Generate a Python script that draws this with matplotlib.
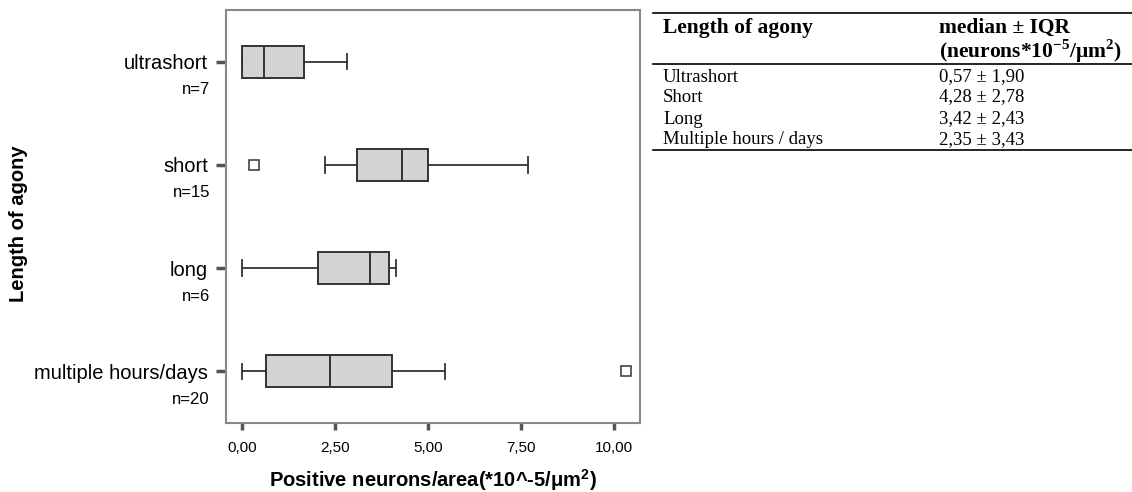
import matplotlib
matplotlib.use('Agg')
import matplotlib.pyplot as plt
from matplotlib.lines import Line2D
import matplotlib.transforms as mtransforms

plt.rcParams['font.family'] = ['Liberation Sans', 'DejaVu Sans']
plt.rcParams['mathtext.fontset'] = 'custom'
plt.rcParams['mathtext.sf'] = 'Liberation Sans:bold'
plt.rcParams['mathtext.bf'] = 'Liberation Serif:bold'
plt.rcParams['mathtext.rm'] = 'Liberation Serif'

# box plot data
groups = ['ultrashort', 'short', 'long', 'multiple hours/days']
counts = [7, 15, 6, 20]
whis_lo = [0.0, 2.24, 0.0, 0.0]
q1 = [0.0, 3.09, 2.04, 0.65]
medians = [0.58, 4.29, 3.45, 2.36]
q3 = [1.67, 4.99, 3.95, 4.02]
whis_hi = [2.82, 7.70, 4.14, 5.46]
outliers = [[], [0.31], [], [10.33]]

xticks = [0, 2.5, 5, 7.5, 10]
xticklabels = ['0,00', '2,50', '5,00', '7,50', '10,00']

# table data
tab_groups = ['Ultrashort', 'Short', 'Long', 'Multiple hours / days']
tab_median = ['0,57', '4,28', '3,42', '2,35']
tab_iqr = ['1,90', '2,78', '2,43', '3,43']

W, H = 1132, 492
fig = plt.figure(figsize=(W / 100, H / 100), dpi=100)
ax = fig.add_axes([226 / W, 1 - 423 / H, (640 - 226) / W, (423 - 10) / H])

stats = []
for i in range(len(groups)):
    stats.append({'whislo': whis_lo[i], 'q1': q1[i], 'med': medians[i],
                  'q3': q3[i], 'whishi': whis_hi[i], 'fliers': outliers[i]})

edge = '#333333'
ax.bxp(stats, positions=range(len(groups)), vert=False, widths=0.31,
       patch_artist=True, showfliers=True,
       boxprops=dict(facecolor='#d3d3d3', edgecolor=edge, linewidth=1.4),
       medianprops=dict(color=edge, linewidth=1.4),
       whiskerprops=dict(color=edge, linewidth=1.3),
       capprops=dict(color=edge, linewidth=1.3), capwidths=0.15,
       flierprops=dict(marker='s', markerfacecolor='white',
                       markeredgecolor=edge, markersize=6.5,
                       markeredgewidth=1.1))

ax.set_xlim(-0.43, 10.70)
ax.set_ylim(3.5, -0.5)
ax.set_xticks(xticks)
ax.set_xticklabels(xticklabels, fontsize=11)
ax.set_yticks(range(len(groups)))
ax.set_yticklabels(groups, fontsize=14.5)
ax.tick_params(axis='y', length=7, width=2.5, color='#555555', pad=6)
ax.tick_params(axis='x', length=5, width=2.5, color='#555555', pad=8)
for sp in ax.spines.values():
    sp.set_color('#888888')
    sp.set_linewidth(1.5)

trans = mtransforms.blended_transform_factory(ax.transAxes, ax.transData)
for i, n in enumerate(counts):
    ax.text(-16 / 414, i + 0.27, 'n=%d' % n, transform=trans,
            ha='right', va='center', fontsize=12)

ax.set_xlabel('Positive neurons/area(*10^-5/\u03bcm$^{\\mathsf{2}}$)',
              fontsize=14.5, fontweight='bold', labelpad=9)
fig.text(19 / W, 1 - 224 / H, 'Length of agony', rotation=90, ha='center',
         va='center', fontsize=14.5, fontweight='bold')

# table on the right
serif = 'Liberation Serif'
for y in [13, 64, 150]:
    fig.add_artist(Line2D([653 / W, 1.0], [1 - y / H, 1 - y / H],
                          color='black', linewidth=1.2))
fig.text(663 / W, 1 - 28 / H, 'Length of agony', family=serif,
         fontweight='bold', fontsize=15.5, va='center')
fig.text(939 / W, 1 - 28 / H, 'median \u00b1 IQR', family=serif,
         fontweight='bold', fontsize=15.5, va='center')
fig.text(939 / W, 1 - 51 / H,
         '(neurons*10$^{\\mathbf{-5}}$/\u03bcm$^{\\mathbf{2}}$)',
         family=serif, fontweight='bold', fontsize=15.5, va='center')
row_y = [77, 97, 119, 140]
for i in range(len(tab_groups)):
    fig.text(663 / W, 1 - row_y[i] / H, tab_groups[i], family=serif,
             fontsize=13.5, va='center')
    fig.text(939 / W, 1 - row_y[i] / H,
             '%s \u00b1 %s' % (tab_median[i], tab_iqr[i]), family=serif,
             fontsize=13.5, va='center')

fig.savefig('out.png', dpi=100)
